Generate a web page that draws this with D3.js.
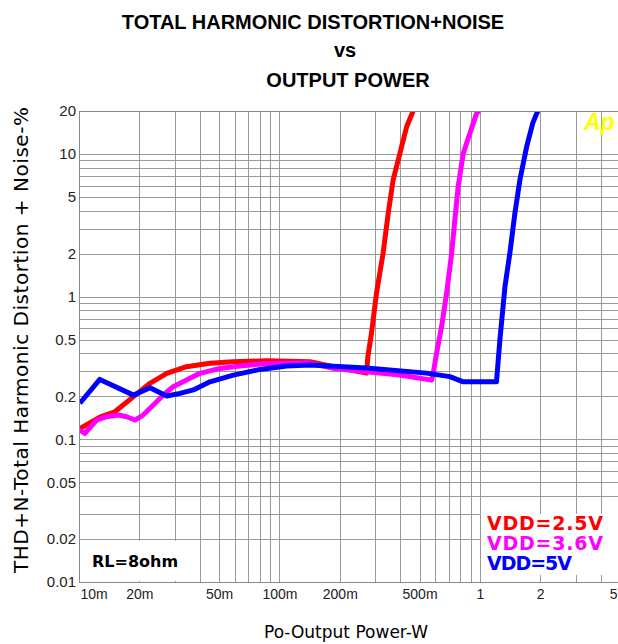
<!DOCTYPE html>
<html>
<head>
<meta charset="utf-8">
<title>THD+N vs Output Power</title>
<script src="https://cdn.jsdelivr.net/npm/d3@7"></script>
<style>
  body { margin: 0; background: #fff; }
  svg { display: block; }
</style>
</head>
<body>
<svg id="chart"></svg>
<script>
// Output power in W, THD+N in %
const vdd25Power = [0.0101, 0.0127, 0.0151, 0.0187, 0.0226, 0.0274, 0.0344, 0.045, 0.0589, 0.0863, 0.142, 0.1855, 0.272, 0.276, 0.288, 0.305, 0.329, 0.349, 0.369, 0.399, 0.431, 0.465];
const vdd25Thd   = [0.119, 0.143, 0.156, 0.199, 0.247, 0.29, 0.323, 0.341, 0.35, 0.355, 0.35, 0.323, 0.291, 0.379, 0.556, 1.06, 2.02, 3.85, 6.56, 10.1, 15.5, 20.1];

const vdd36Power = [0.0101, 0.0107, 0.01225, 0.0137, 0.0157, 0.0173, 0.019, 0.0209, 0.0235, 0.0263, 0.0295, 0.0344, 0.0401, 0.0505, 0.0635, 0.08, 0.1006, 0.142, 0.1855, 0.272, 0.399, 0.574, 0.585, 0.608, 0.644, 0.682, 0.723, 0.75, 0.779, 0.826, 0.891, 0.963, 0.992];
const vdd36Thd   = [0.116, 0.11, 0.1365, 0.144, 0.148, 0.144, 0.1365, 0.148, 0.174, 0.204, 0.234, 0.26, 0.29, 0.314, 0.326, 0.337, 0.341, 0.342, 0.314, 0.298, 0.282, 0.26, 0.29, 0.401, 0.615, 1.055, 2.01, 3.44, 5.89, 10.1, 13.9, 19.25, 20.1];

const vdd5Power = [0.0101, 0.0127, 0.0187, 0.0226, 0.0274, 0.0319, 0.0372, 0.045, 0.0589, 0.08, 0.1086, 0.142, 0.272, 0.542, 0.708, 0.826, 1.21, 1.258, 1.333, 1.411, 1.495, 1.583, 1.71, 1.837, 1.946];
const vdd5Thd   = [0.179, 0.263, 0.204, 0.23, 0.201, 0.21, 0.222, 0.253, 0.282, 0.309, 0.326, 0.332, 0.316, 0.291, 0.275, 0.253, 0.253, 0.496, 1.17, 2.02, 3.85, 6.56, 11.2, 16.5, 20.1];

const seriesNames = ["VDD=2.5V", "VDD=3.6V", "VDD=5V"];
const seriesColors = ["#ff0000", "#ff00ff", "#0000ff"];

const xTickValues = [0.01, 0.02, 0.05, 0.1, 0.2, 0.5, 1, 2, 5];
const xTickLabels = ["10m", "20m", "50m", "100m", "200m", "500m", "1", "2", "5"];
const yTickValues = [0.01, 0.02, 0.05, 0.1, 0.2, 0.5, 1, 2, 5, 10, 20];
const yTickLabels = ["0.01", "0.02", "0.05", "0.1", "0.2", "0.5", "1", "2", "5", "10", "20"];

const width = 618, height = 644;
const plot = { left: 79, right: 620, top: 111, bottom: 582 };

const svg = d3.select("#chart")
  .attr("width", width)
  .attr("height", height);

svg.append("rect").attr("width", width).attr("height", height).attr("fill", "#fff");

const x = d3.scaleLog().domain([0.01, 5]).range([plot.left, plot.right]);
const y = d3.scaleLog().domain([0.01, 20]).range([plot.bottom, plot.top]);

// grid
const grid = svg.append("g")
  .attr("stroke", "#999")
  .attr("stroke-width", 1)
  .attr("shape-rendering", "crispEdges");

grid.selectAll(".vgrid")
  .data(x.ticks())
  .join("line")
  .attr("x1", d => Math.round(x(d)) + 0.5)
  .attr("x2", d => Math.round(x(d)) + 0.5)
  .attr("y1", plot.top)
  .attr("y2", plot.bottom);

grid.selectAll(".hgrid")
  .data(y.ticks())
  .join("line")
  .attr("x1", plot.left)
  .attr("x2", plot.right)
  .attr("y1", d => Math.round(y(d)) + 0.5)
  .attr("y2", d => Math.round(y(d)) + 0.5);

// white boxes behind the notes
svg.append("rect")
  .attr("x", 481).attr("y", 514).attr("width", 140).attr("height", 61)
  .attr("fill", "#fff");
svg.append("rect")
  .attr("x", 81).attr("y", 541).attr("width", 113).attr("height", 40)
  .attr("fill", "#fff");

// curves
svg.append("clipPath").attr("id", "clip")
  .append("rect")
  .attr("x", plot.left).attr("y", plot.top)
  .attr("width", plot.right - plot.left).attr("height", plot.bottom - plot.top);

const series = [
  d3.zip(vdd25Power, vdd25Thd),
  d3.zip(vdd36Power, vdd36Thd),
  d3.zip(vdd5Power, vdd5Thd)
];

const line = d3.line()
  .x(d => x(d[0]))
  .y(d => y(d[1]));

svg.append("g")
  .attr("clip-path", "url(#clip)")
  .selectAll("path")
  .data(series)
  .join("path")
  .attr("fill", "none")
  .attr("stroke", (d, i) => seriesColors[i])
  .attr("stroke-width", 5)
  .attr("stroke-linejoin", "round")
  .attr("d", line);

// axes (labels only, the grid does the rest)
const xAxis = svg.append("g")
  .attr("transform", `translate(0,${plot.bottom})`)
  .call(d3.axisBottom(x).tickValues(xTickValues).tickSize(0).tickPadding(7)
    .tickFormat((d, i) => xTickLabels[i]));
xAxis.select(".domain").remove();
xAxis.selectAll("text")
  .attr("font-family", "'Liberation Sans', Arial, sans-serif")
  .attr("font-size", 14)
  .attr("fill", "#222");
xAxis.selectAll(".tick text")
  .filter((d, i) => i === 0)
  .attr("text-anchor", "start")
  .attr("x", 1);
xAxis.selectAll(".tick text")
  .filter((d, i) => i === xTickValues.length - 1)
  .attr("text-anchor", "end")
  .attr("x", -3);

const yAxis = svg.append("g")
  .attr("transform", `translate(${plot.left},0)`)
  .call(d3.axisLeft(y).tickValues(yTickValues).tickSize(0).tickPadding(3)
    .tickFormat((d, i) => yTickLabels[i]));
yAxis.select(".domain").remove();
yAxis.selectAll("text")
  .attr("font-family", "'Liberation Sans', Arial, sans-serif")
  .attr("font-size", 15)
  .attr("fill", "#222");

// frame
svg.append("path")
  .attr("d", `M${plot.right},${plot.top + 0.5}H${plot.left + 0.5}V${plot.bottom + 0.5}H${plot.right}`)
  .attr("fill", "none")
  .attr("stroke", "#888")
  .attr("shape-rendering", "crispEdges");

// titles
const title = svg.append("g")
  .attr("font-family", "'Liberation Sans', Arial, sans-serif")
  .attr("font-weight", "bold")
  .attr("font-size", 20)
  .attr("text-anchor", "middle")
  .attr("fill", "#000");
title.append("text").attr("x", 313).attr("y", 29).text("TOTAL HARMONIC DISTORTION+NOISE");
title.append("text").attr("x", 345).attr("y", 57).text("vs");
title.append("text").attr("x", 348).attr("y", 87).text("OUTPUT POWER");

svg.append("text")
  .attr("x", 346).attr("y", 638)
  .attr("text-anchor", "middle")
  .attr("font-family", "'DejaVu Sans', Verdana, sans-serif")
  .attr("font-size", 17)
  .text("Po-Output Power-W");

svg.append("text")
  .attr("transform", "translate(28,340) rotate(-90)")
  .attr("text-anchor", "middle")
  .attr("font-family", "'DejaVu Sans', Verdana, sans-serif")
  .attr("font-size", 20)
  .attr("textLength", 466)
  .text("THD+N-Total Harmonic Distortion + Noise-%");

// notes
const legend = svg.append("g")
  .attr("font-family", "'DejaVu Sans', Verdana, sans-serif")
  .attr("font-weight", "bold")
  .attr("font-size", 19);
legend.selectAll("text")
  .data(seriesNames)
  .join("text")
  .attr("x", 487)
  .attr("y", (d, i) => 530 + i * 20)
  .attr("fill", (d, i) => seriesColors[i])
  .attr("textLength", (d, i) => i === 2 ? 85 : 116)
  .text(d => d);

svg.append("text")
  .attr("x", 92).attr("y", 567)
  .attr("font-family", "'DejaVu Sans', Verdana, sans-serif")
  .attr("font-weight", "bold")
  .attr("font-size", 16)
  .text("RL=8ohm");

svg.append("text")
  .attr("x", 584).attr("y", 130)
  .attr("font-family", "'Liberation Sans', Arial, sans-serif")
  .attr("font-weight", "bold")
  .attr("font-style", "italic")
  .attr("font-size", 23)
  .attr("fill", "#ffff00")
  .text("Ap");
</script>
</body>
</html>
